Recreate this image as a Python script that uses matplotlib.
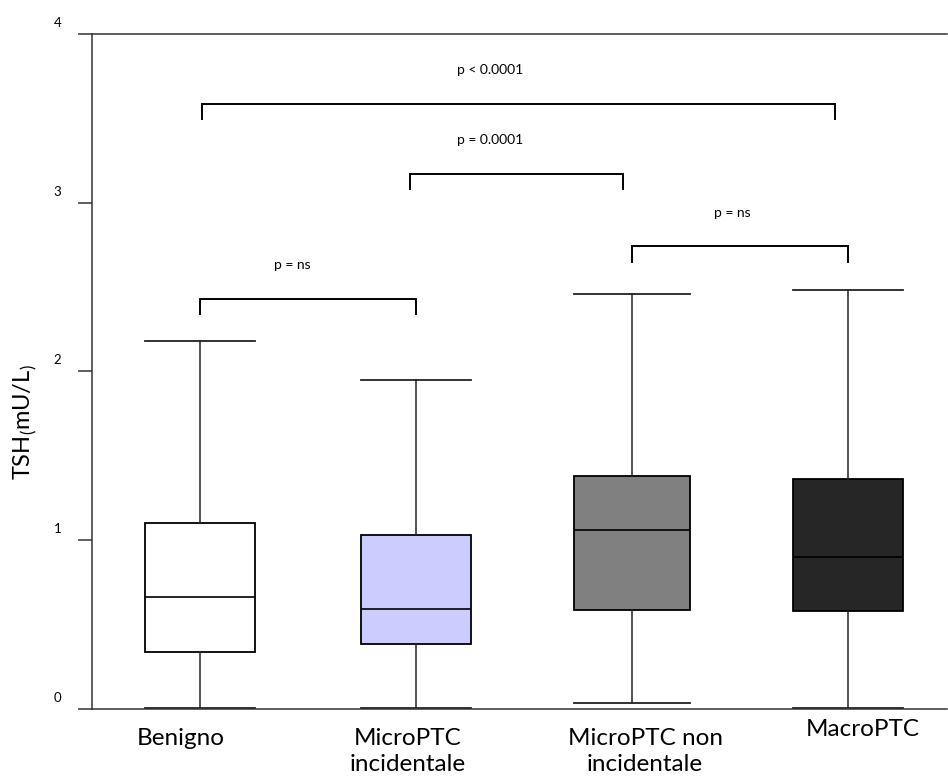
import matplotlib.pyplot as plt
from matplotlib.transforms import ScaledTranslation

plt.rcParams['font.family'] = ['Lato', 'DejaVu Sans']
plt.rcParams['mathtext.fontset'] = 'custom'
plt.rcParams['mathtext.rm'] = 'Lato'

groups = ['Benigno', 'MicroPTC\nincidentale', 'MicroPTC non\nincidentale', 'MacroPTC']
whis_lo = [0.005, 0.005, 0.036, 0.005]
q1 = [0.337, 0.385, 0.586, 0.578]
median = [0.665, 0.592, 1.063, 0.90]
q3 = [1.10, 1.028, 1.379, 1.365]
whis_hi = [2.18, 1.947, 2.46, 2.48]
box_colors = ['white', '#CCCCFF', '#808080', '#262626']

# significance brackets
cmp_left = [1.01, 1.97, 3.0, 1.0]
cmp_right = [3.94, 2.96, 4.0, 2.0]
cmp_y = [3.586, 3.168, 2.74, 2.43]
cmp_text_x = [2.343, 2.343, 3.463, 1.426]
cmp_text = ['p < 0.0001', 'p = 0.0001', 'p = ns', 'p = ns']

fig = plt.figure(figsize=(9.48, 7.78), dpi=100)
ax = fig.add_axes([0.097, 0.0887, 0.902, 0.868])

stats = []
for i, name in enumerate(groups):
    stats.append({'label': name, 'whislo': whis_lo[i], 'q1': q1[i], 'med': median[i],
                  'q3': q3[i], 'whishi': whis_hi[i], 'fliers': []})

pos = [1, 2, 3, 4]
widths = [0.51, 0.51, 0.537, 0.51]
bp = ax.bxp(stats, positions=pos, widths=widths, capwidths=widths, patch_artist=True,
            showfliers=False,
            boxprops=dict(linewidth=1.3, edgecolor='black'),
            medianprops=dict(color='black', linewidth=1.2),
            whiskerprops=dict(color='#222222', linewidth=1.1),
            capprops=dict(color='#222222', linewidth=1.3))
for patch, c in zip(bp['boxes'], box_colors):
    patch.set_facecolor(c)

# brackets
leg = 0.09
for xl, xr, yb, tx, t in zip(cmp_left, cmp_right, cmp_y, cmp_text_x, cmp_text):
    ax.plot([xl, xl, xr, xr], [yb - leg, yb, yb, yb - leg], color='black', linewidth=1.4,
            solid_joinstyle='miter')
    ax.text(tx, yb + 0.2, t, ha='center', va='center', fontsize=10)

ax.set_xlim(0.5, 0.5 + (947 - 92) / 216)
ax.set_ylim(0, 4)

ax.spines['right'].set_visible(False)
for s in ['left', 'top', 'bottom']:
    ax.spines[s].set_linewidth(1.1)
    ax.spines[s].set_color('#333333')

ax.set_yticks([0, 1, 2, 3, 4])
ax.set_yticklabels(['0', '1', '2', '3', '4'], fontsize=9.5)
ax.tick_params(axis='y', length=10, width=1.1, color='#333333', pad=12)
for lab in ax.get_yticklabels():
    lab.set_transform(lab.get_transform() + ScaledTranslation(0, 0.12, fig.dpi_scale_trans))

ax.set_xticks(pos)
ax.set_xticklabels(groups, fontsize=17.5, linespacing=1.25)
ax.tick_params(axis='x', length=0, pad=14)
label_dx = [-0.19, -0.08, 0.13, 0.15]
label_dy = [0.0, 0.0, 0.0, 0.09]
for lab, dx, dy in zip(ax.get_xticklabels(), label_dx, label_dy):
    lab.set_transform(lab.get_transform() + ScaledTranslation(dx, dy, fig.dpi_scale_trans))

ax.set_ylabel(r'TSH$_\mathrm{(}$mU/L$_\mathrm{)}$', fontsize=17)
ax.yaxis.set_label_coords(-0.062, 0.424)

fig.savefig('out.png', dpi=100)
